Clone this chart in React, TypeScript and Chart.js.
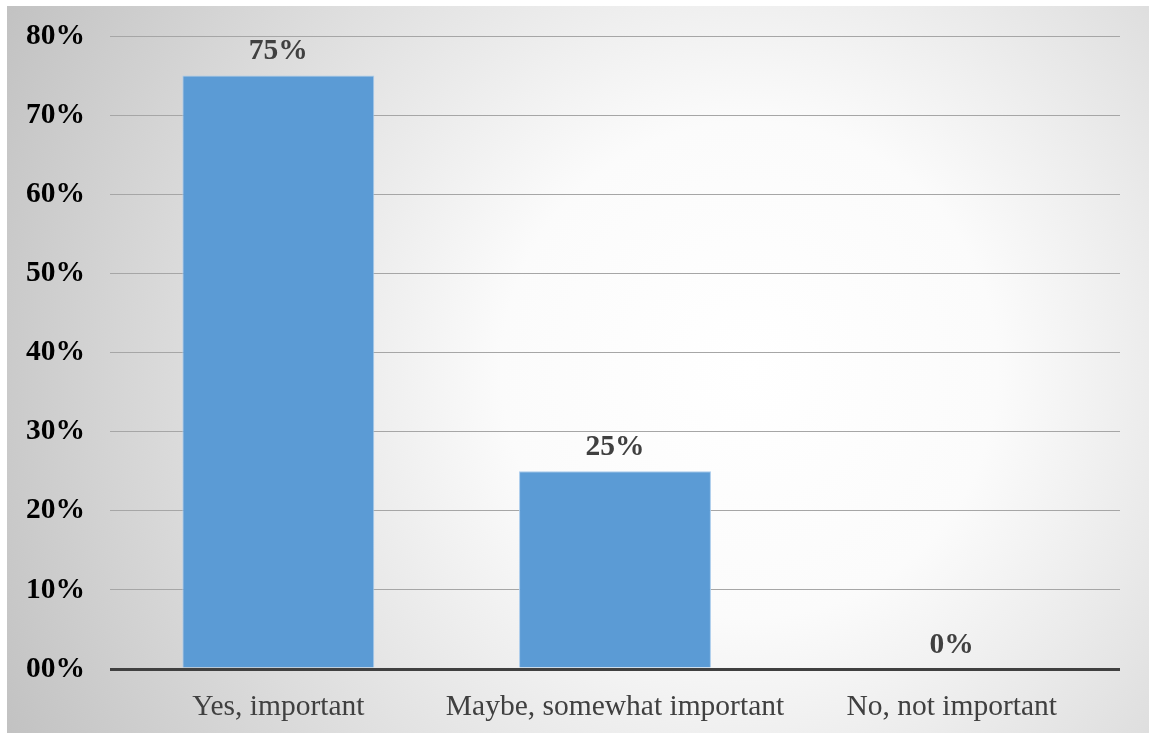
import React, { useEffect, useRef } from "react";
import { Chart, registerables } from "chart.js";

Chart.register(...registerables);

const categories = ["Yes, important", "Maybe, somewhat important", "No, not important"];
const values = [75, 25, 0];
const valueLabels = ["75%", "25%", "0%"];
const yTickValues = [0, 10, 20, 30, 40, 50, 60, 70, 80];
const yTickLabels = ["00%", "10%", "20%", "30%", "40%", "50%", "60%", "70%", "80%"];

const FONT = "'Liberation Serif', 'Times New Roman', serif";

const bgPlugin = {
  id: "bgGradient",
  beforeDraw(chart: any) {
    const { ctx, width, height } = chart;
    ctx.save();
    const cx = width * 0.65;
    const cy = height * 0.5;
    const r = Math.sqrt(cx * cx + cy * cy);
    const g = ctx.createRadialGradient(cx, cy, 0, cx, cy, r);
    g.addColorStop(0, "#ffffff");
    g.addColorStop(0.3, "#fbfbfb");
    g.addColorStop(1, "#c2c2c2");
    ctx.fillStyle = g;
    ctx.fillRect(0, 0, width, height);
    ctx.restore();
  },
};

const labelPlugin = {
  id: "valueLabels",
  afterDatasetsDraw(chart: any) {
    const { ctx } = chart;
    const meta = chart.getDatasetMeta(0);
    ctx.save();
    ctx.font = `bold 29.5px ${FONT}`;
    ctx.fillStyle = "#404040";
    ctx.textAlign = "center";
    ctx.textBaseline = "middle";
    meta.data.forEach((bar: any, i: number) => {
      ctx.fillText(valueLabels[i], bar.x, bar.y - 24);
    });
    ctx.restore();
  },
};

export default function App() {
  const ref = useRef<HTMLCanvasElement>(null);
  useEffect(() => {
    if (!ref.current) return;
    const chart = new Chart(ref.current, {
      type: "bar",
      data: {
        labels: categories,
        datasets: [
          {
            data: values,
            backgroundColor: "#5b9bd5",
            borderColor: "#a9cbec",
            borderWidth: 1,
            categoryPercentage: 1,
            barPercentage: 0.57,
          },
        ],
      },
      options: {
        animation: false,
        responsive: true,
        maintainAspectRatio: false,
        layout: { padding: { top: 30, right: 29, left: 0, bottom: 0 } },
        plugins: { legend: { display: false }, tooltip: { enabled: false } },
        scales: {
          x: {
            grid: { display: false },
            border: { display: false },
            ticks: {
              color: "#404040",
              font: { family: FONT, size: 29.5 },
              padding: 13,
              maxRotation: 0,
              autoSkip: false,
            },
            afterFit(scale: any) {
              scale.height = 64;
              scale.paddingLeft = 0;
              scale.paddingRight = 0;
            },
          },
          y: {
            min: 0,
            max: 80,
            afterBuildTicks(scale: any) {
              scale.ticks = yTickValues.map((v) => ({ value: v }));
            },
            grid: {
              drawTicks: false,
              color: (c: any) => (c.tick && c.tick.value === 0 ? "#404040" : "#a6a6a6"),
              lineWidth: (c: any) => (c.tick && c.tick.value === 0 ? 3 : 1),
            },
            border: { display: false },
            ticks: {
              color: "#000000",
              font: { family: FONT, size: 29.5, weight: "bold" },
              padding: 25,
              callback: (_v: any, i: number) => yTickLabels[i],
            },
            afterFit(scale: any) {
              scale.width = 103;
              scale.paddingTop = 0;
              scale.paddingBottom = 0;
            },
          },
        },
      },
      plugins: [bgPlugin, labelPlugin],
    });
    return () => chart.destroy();
  }, []);
  return (
    <div style={{ position: "fixed", left: 7, top: 6, width: 1142, height: 727 }}>
      <canvas ref={ref} />
    </div>
  );
}
